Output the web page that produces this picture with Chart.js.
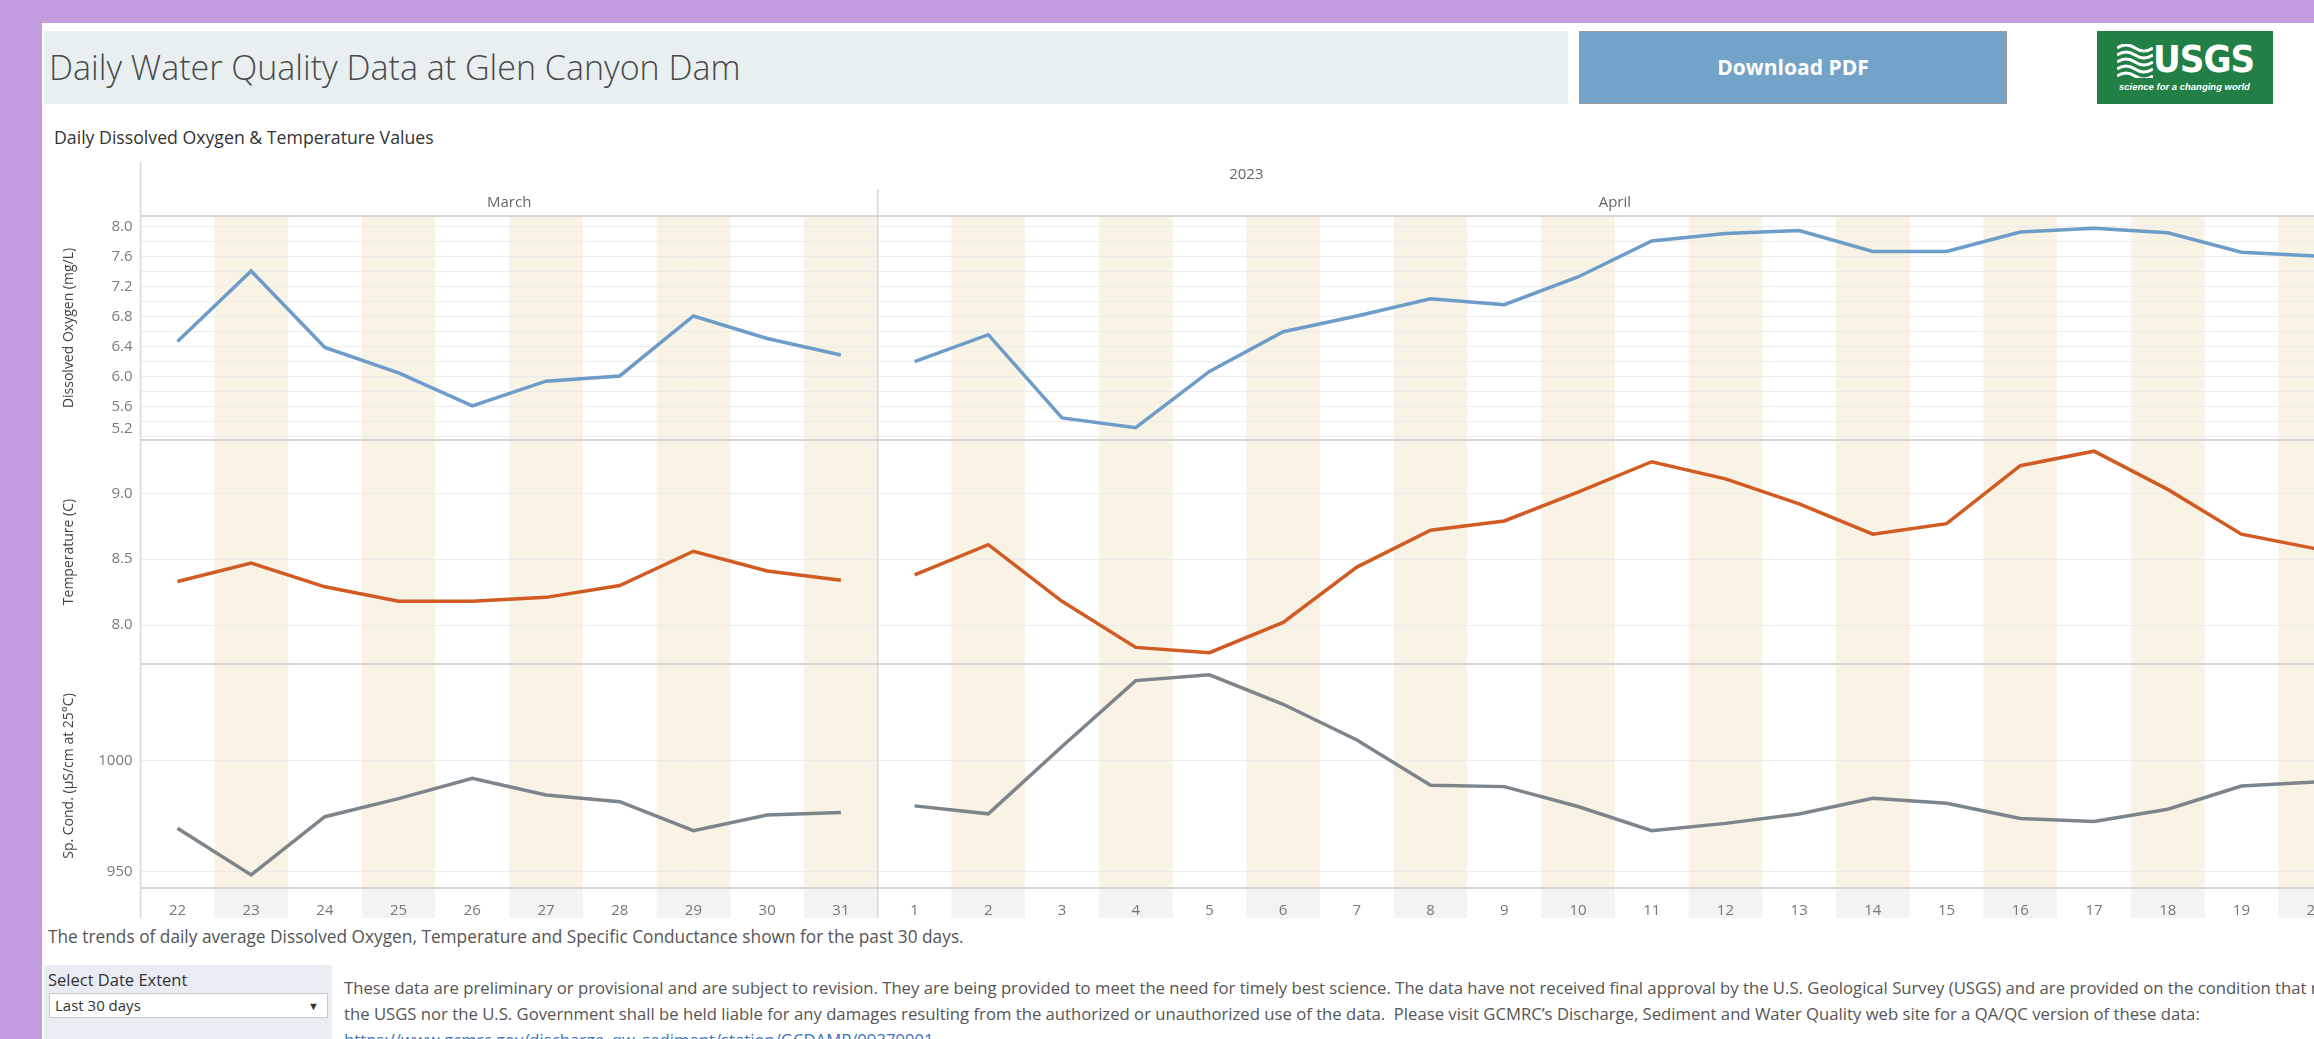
<!DOCTYPE html>
<html>
<head>
<meta charset="utf-8">
<script src="https://cdn.jsdelivr.net/npm/chart.js@4.4.0/dist/chart.umd.min.js"></script>
<style>
  html, body { margin: 0; padding: 0; }
  body {
    width: 2314px; height: 1039px; overflow: hidden; position: relative;
    background: #c49de0; font-family: 'Open Sans', sans-serif; color: #555;
  }
  #sheet { position: absolute; left: 42px; top: 23px; width: 2400px; height: 1100px; background: #fff; }
  #titleBox {
    position: absolute; left: 44px; top: 31px; width: 1524px; height: 73px;
    background: #e7eff1;
  }
  #titleBox span {
    position: absolute; left: 5px; top: 13px; font-size: 34px; font-weight: 300;
    color: #4a4a4a; white-space: nowrap;
  }
  #pdfBtn {
    position: absolute; left: 1579px; top: 31px; width: 426px; height: 71px;
    background: #74a3c9; border: 1px solid #9a9a9a; color: #fff;
    font-weight: 700; font-size: 21px; text-align: center; line-height: 71px;
  }
  #logo {
    position: absolute; left: 2097px; top: 31px; width: 176px; height: 73px;
    background: #227f45; color: #fff;
  }
  #logo .word { position: absolute; left: 56px; top: 6px; font: 700 38px 'Liberation Sans Narrow', 'DejaVu Sans Condensed', sans-serif; letter-spacing: -1px; }
  #logo .tag { position: absolute; left: 22px; top: 50px; font: italic 700 9.5px 'Liberation Sans Narrow', sans-serif; white-space: nowrap; }
  #logo svg { position: absolute; left: 20px; top: 13px; }
  #subTitle { position: absolute; left: 54px; top: 125px; font-size: 17.7px; color: #333; white-space: nowrap; }
  #chartWrap { position: absolute; left: 42px; top: 150px; }
  #note { position: absolute; left: 48px; top: 925px; font-size: 17.3px; color: #555; white-space: nowrap; }
  #filter { position: absolute; left: 44px; top: 965px; width: 288px; height: 90px; background: #e8ecf3; }
  #filter .lbl { position: absolute; left: 4px; top: 3px; font-size: 16.5px; color: #333; white-space: nowrap; }
  #filter .sel {
    position: absolute; left: 5px; top: 28px; width: 279px; height: 25px; background: #fff;
    border: 1px solid #c8c8c8; font-size: 15px; color: #333; line-height: 23px; box-sizing: border-box;
  }
  #filter .sel span { position: absolute; left: 5px; }
  #filter .sel i { position: absolute; right: 8px; top: 0; font-style: normal; font-size: 11px; }
  #disclaimer { position: absolute; left: 344px; top: 975px; font-size: 16.7px; color: #555; line-height: 26px; white-space: nowrap; }
  #disclaimer a { color: #3b74b8; text-decoration: none; }
</style>
</head>
<body>
<div id="sheet"></div>
<div id="titleBox"><span>Daily Water Quality Data at Glen Canyon Dam</span></div>
<div id="pdfBtn">Download PDF</div>
<div id="logo">
  <svg width="36" height="34" viewBox="0 0 36 34">
    <path d="M0 4 Q9 -2 18 4 T36 4" stroke="#fff" stroke-width="3" fill="none"/>
    <path d="M0 11 Q9 5 18 11 T36 11" stroke="#fff" stroke-width="3" fill="none"/>
    <path d="M0 18 Q9 12 18 18 T36 18" stroke="#fff" stroke-width="3" fill="none"/>
    <path d="M0 25 Q9 19 18 25 T36 25" stroke="#fff" stroke-width="3" fill="none"/>
    <path d="M0 32 Q9 26 18 32 T36 32" stroke="#fff" stroke-width="3" fill="none"/>
  </svg>
  <div class="word">USGS</div>
  <div class="tag">science for a changing world</div>
</div>
<div id="subTitle">Daily Dissolved Oxygen &amp; Temperature Values</div>
<div id="chartWrap"><canvas id="wq" width="2320" height="768"></canvas></div>
<div id="note">The trends of daily average Dissolved Oxygen, Temperature and Specific Conductance shown for the past 30 days.</div>
<div id="filter">
  <div class="lbl">Select Date Extent</div>
  <div class="sel"><span>Last 30 days</span><i>&#9660;</i></div>
</div>
<div id="disclaimer">
  These data are preliminary or provisional and are subject to revision. They are being provided to meet the need for timely best science. The data have not received final approval by the U.S. Geological Survey (USGS) and are provided on the condition that neither<br>
  the USGS nor the U.S. Government shall be held liable for any damages resulting from the authorized or unauthorized use of the data.&nbsp; Please visit GCMRC’s Discharge, Sediment and Water Quality web site for a QA/QC version of these data:<br>
  <a>https://www.gcmrc.gov/discharge_qw_sediment/station/GCDAMP/09379901</a>
</div>

<script>
const year = '2023';
const months = ['March', 'April'];
const marchDays = ['22', '23', '24', '25', '26', '27', '28', '29', '30', '31'];
const aprilDays = ['1', '2', '3', '4', '5', '6', '7', '8', '9', '10',
  '11', '12', '13', '14', '15', '16', '17', '18', '19', '20'];

// daily means
const oxygenMarch = [6.47, 7.41, 6.39, 6.05, 5.61, 5.94, 6.01, 6.81, 6.51, 6.29];
const oxygenApril = [6.20, 6.56, 5.45, 5.32, 6.07, 6.60, 6.81, 7.04, 6.96, 7.33,
  7.81, 7.91, 7.95, 7.67, 7.67, 7.93, 7.98, 7.92, 7.66, 7.61];
const tempMarch = [8.33, 8.47, 8.29, 8.18, 8.18, 8.21, 8.30, 8.56, 8.41, 8.34];
const tempApril = [8.38, 8.61, 8.18, 7.83, 7.79, 8.02, 8.44, 8.72, 8.79, 9.01,
  9.24, 9.11, 8.92, 8.69, 8.77, 9.21, 9.32, 9.03, 8.69, 8.58];
const condMarch = [969.6, 948.5, 974.8, 983.0, 992.2, 984.6, 981.6, 968.5, 975.6, 976.7];
const condApril = [979.7, 976.1, 1006.5, 1036.3, 1038.9, 1025.6, 1009.5, 989.0, 988.4, 979.4,
  968.5, 971.8, 976.0, 983.1, 980.9, 974.0, 972.7, 978.2, 988.7, 990.5];

// axis ticks
const oxygenGrid = [5.2, 5.4, 5.6, 5.8, 6.0, 6.2, 6.4, 6.6, 6.8, 7.0, 7.2, 7.4, 7.6, 7.8, 8.0];
const oxygenTicks = [5.2, 5.6, 6.0, 6.4, 6.8, 7.2, 7.6, 8.0];
const tempTicks = [8.0, 8.5, 9.0];
const condTicks = [950, 1000];

const days = [...marchDays, ...aprilDays];
const AXIS_W = 98.6;
const LABEL_ROW = 30;
const tickFont = { family: 'Open Sans', size: 15 };
const titleFont = { family: 'Open Sans', size: 14 };

// no segment across the month break
const monthBreak = {
  borderColor: ctx => ctx.p0DataIndex === marchDays.length - 1 ? 'rgba(0,0,0,0)' : undefined
};

// tick labels hugging the panel edge get pulled inside, as Tableau does
function edgeLabel(s, v) {
  const f = (v - s.min) / (s.max - s.min);
  return f < 0.045 || f > 0.955;
}

function yAxis(ticks, grid, title, min, max, weight, digits) {
  return {
    type: 'linear', position: 'left', stack: 'panels', stackWeight: 1, weight: weight,
    min: min, max: max,
    afterBuildTicks: s => { s.ticks = grid.map(v => ({ value: v })); },
    afterFit: s => { s.width = AXIS_W; },
    grid: { color: '#ececec', drawTicks: false },
    border: { display: false },
    ticks: {
      autoSkip: false, padding: 8, color: '#7a7a7a', font: tickFont,
      callback: function (v) {
        if (!ticks.includes(v) || edgeLabel(this, v)) return '';
        return v.toFixed(digits);
      }
    },
    title: { display: true, text: title, color: '#444', font: titleFont, padding: { top: 19 } }
  };
}

const decor = {
  id: 'decor',
  beforeDraw(chart) {
    const { ctx, chartArea: a, scales: { x } } = chart;
    const w = x.getPixelForValue(1) - x.getPixelForValue(0);
    ctx.save();
    days.forEach((d, i) => {
      if (i % 2 === 0) return;
      const cx = x.getPixelForValue(i);
      ctx.fillStyle = '#f9f3e5';
      ctx.fillRect(cx - w / 2, a.top, w, a.bottom - a.top);
      ctx.fillStyle = '#f3f3f3';
      ctx.fillRect(cx - w / 2, a.bottom, w, LABEL_ROW);
    });
    ctx.restore();
  },
  afterDraw(chart) {
    const { ctx, chartArea: a, scales } = chart;
    const x = scales.x;
    const w = x.getPixelForValue(1) - x.getPixelForValue(0);
    const split = x.getPixelForValue(marchDays.length) - w / 2;
    const endX = x.getPixelForValue(days.length - 1) + w / 2;
    ctx.save();
    ctx.strokeStyle = '#d6d6d6';
    ctx.lineWidth = 2;
    [a.top, scales.y.bottom, scales.y2.bottom, a.bottom].forEach(yy => {
      ctx.beginPath(); ctx.moveTo(a.left, yy); ctx.lineTo(endX, yy); ctx.stroke();
    });
    ctx.lineWidth = 1.5;
    ctx.beginPath(); ctx.moveTo(a.left, 12); ctx.lineTo(a.left, a.bottom + LABEL_ROW); ctx.stroke();
    ctx.beginPath(); ctx.moveTo(split, 39); ctx.lineTo(split, a.bottom + LABEL_ROW); ctx.stroke();

    // edge tick labels, nudged inside their panel
    ctx.font = '15px "Open Sans"';
    ctx.fillStyle = '#7a7a7a';
    ctx.textAlign = 'right';
    ctx.textBaseline = 'middle';
    [[scales.y, oxygenTicks, 1], [scales.y2, tempTicks, 1], [scales.y3, condTicks, 0]].forEach(([s, ticks, dg]) => {
      ticks.forEach(v => {
        if (!edgeLabel(s, v)) return;
        const y = Math.min(Math.max(s.getPixelForValue(v), s.top + 11), s.bottom - 11);
        ctx.fillText(v.toFixed(dg), s.right - 8, y);
      });
    });

    ctx.fillStyle = '#666';
    ctx.textAlign = 'center';
    ctx.fillText(year, (a.left + endX) / 2, 25);
    ctx.fillText(months[0], (a.left + split) / 2, 53);
    ctx.fillText(months[1], (split + endX) / 2, 53);
    ctx.restore();
  }
};

new Chart(document.getElementById('wq'), {
  type: 'line',
  data: {
    labels: days,
    datasets: [
      { label: 'Dissolved Oxygen', data: [...oxygenMarch, ...oxygenApril], yAxisID: 'y',
        borderColor: '#6c9cc7', segment: monthBreak },
      { label: 'Temperature', data: [...tempMarch, ...tempApril], yAxisID: 'y2',
        borderColor: '#d15b22', segment: monthBreak },
      { label: 'Sp. Cond.', data: [...condMarch, ...condApril], yAxisID: 'y3',
        borderColor: '#7d858b', segment: monthBreak }
    ]
  },
  options: {
    responsive: false,
    animation: false,
    devicePixelRatio: 1,
    layout: { padding: { top: 66, right: 10, left: 0, bottom: 0 } },
    elements: {
      line: { borderWidth: 3.5, tension: 0 },
      point: { radius: 0 }
    },
    scales: {
      x: {
        type: 'category', offset: true,
        afterFit: s => { s.height = LABEL_ROW; },
        grid: { display: false },
        border: { display: false },
        ticks: { autoSkip: false, maxRotation: 0, padding: 6, color: '#777', font: tickFont }
      },
      y: yAxis(oxygenTicks, oxygenGrid, 'Dissolved Oxygen (mg/L)', 5.156, 8.143, 3, 1),
      y2: yAxis(tempTicks, tempTicks, 'Temperature (C)', 7.704, 9.405, 2, 1),
      y3: yAxis(condTicks, condTicks, 'Sp. Cond. (µS/cm at 25°C)', 942.6, 1043.8, 1, 0)
    },
    plugins: {
      legend: { display: false },
      tooltip: { enabled: false }
    }
  },
  plugins: [decor]
});
</script>
</body>
</html>
